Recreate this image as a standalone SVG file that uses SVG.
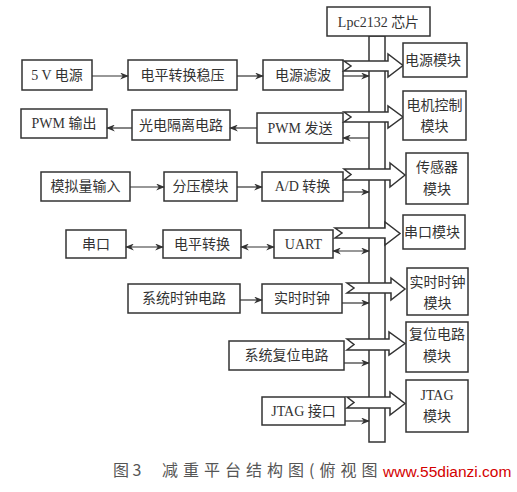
<svg xmlns="http://www.w3.org/2000/svg" width="517" height="492" viewBox="0 0 517 492">
<style>
.box{fill:#fff;stroke:#333;stroke-width:1.5}
.t{font-family:"Liberation Serif","Noto Sans CJK SC",serif;font-size:14px;fill:#333;text-anchor:middle;dominant-baseline:central}
.c{stroke:#333;stroke-width:1.2;fill:none}
.ba{fill:#fff;stroke:#333;stroke-width:1.5;stroke-linejoin:miter}
</style>
<defs>
<marker id="ah" viewBox="0 0 10 8" refX="9" refY="4" markerWidth="9" markerHeight="7" markerUnits="userSpaceOnUse" orient="auto-start-reverse">
<path d="M0,0 L10,4 L0,8 L3,4 z" fill="#333"/>
</marker>
</defs>
<rect width="517" height="492" fill="#fff"/>
<g id="bus">
<rect class="box" x="369" y="36" width="16" height="406"/>
</g>
<g id="lpc"><rect class="box" x="327" y="7" width="103" height="29"/><text class="t" x="378.5" y="22">Lpc2132 芯片</text></g>
<g id="n5v"><rect class="box" x="22" y="60" width="70" height="30"/><text class="t" x="57" y="75">5 V 电源</text></g>
<g id="ndp"><rect class="box" x="128" y="60" width="109" height="30"/><text class="t" x="182.5" y="75">电平转换稳压</text></g>
<g id="nlb"><rect class="box" x="263" y="60" width="80" height="30"/><text class="t" x="303" y="75">电源滤波</text></g>
<g id="npwmout"><rect class="box" x="21" y="109" width="86" height="29"/><text class="t" x="64" y="123.5">PWM 输出</text></g>
<g id="ngd"><rect class="box" x="132" y="110" width="98" height="30"/><text class="t" x="181" y="125">光电隔离电路</text></g>
<g id="npwm"><rect class="box" x="257" y="113" width="86" height="30"/><text class="t" x="300" y="128">PWM 发送</text></g>
<g id="nmn"><rect class="box" x="41" y="172" width="89" height="29"/><text class="t" x="85.5" y="186.5">模拟量输入</text></g>
<g id="nfy"><rect class="box" x="164" y="172" width="73" height="29"/><text class="t" x="200.5" y="186.5">分压模块</text></g>
<g id="nad"><rect class="box" x="262" y="172" width="81" height="29"/><text class="t" x="302.5" y="186.5">A/D 转换</text></g>
<g id="nck"><rect class="box" x="66" y="230" width="60" height="28"/><text class="t" x="96" y="244">串口</text></g>
<g id="ndz"><rect class="box" x="163" y="230" width="78" height="28"/><text class="t" x="202" y="244">电平转换</text></g>
<g id="nuart"><rect class="box" x="274" y="230" width="59" height="28"/><text class="t" x="303.5" y="244">UART</text></g>
<g id="nxtsz"><rect class="box" x="128" y="284" width="112" height="29"/><text class="t" x="184" y="298.5">系统时钟电路</text></g>
<g id="nsssz"><rect class="box" x="262" y="284" width="80" height="29"/><text class="t" x="302" y="298.5">实时时钟</text></g>
<g id="nfw"><rect class="box" x="229" y="341" width="115" height="29"/><text class="t" x="286.5" y="355.5">系统复位电路</text></g>
<g id="njtag"><rect class="box" x="262" y="397" width="83" height="28"/><text class="t" x="303.5" y="411">JTAG 接口</text></g>
<g id="connectors">
<line class="c" x1="92" y1="76" x2="128" y2="76" marker-end="url(#ah)"/>
<line class="c" x1="237" y1="76" x2="263" y2="76" marker-end="url(#ah)"/>
<line class="c" x1="343" y1="76" x2="369" y2="76" marker-end="url(#ah)"/>
<line class="c" x1="257" y1="128" x2="230" y2="128" marker-end="url(#ah)"/>
<line class="c" x1="132" y1="128" x2="107" y2="128" marker-end="url(#ah)"/>
<line class="c" x1="369" y1="138" x2="343" y2="138" marker-end="url(#ah)"/>
<line class="c" x1="130" y1="187" x2="164" y2="187" marker-end="url(#ah)"/>
<line class="c" x1="237" y1="187" x2="262" y2="187" marker-end="url(#ah)"/>
<line class="c" x1="343" y1="192" x2="369" y2="192" marker-end="url(#ah)"/>
<line class="c" x1="126" y1="247" x2="163" y2="247" marker-start="url(#ah)" marker-end="url(#ah)"/>
<line class="c" x1="241" y1="247" x2="274" y2="247" marker-start="url(#ah)" marker-end="url(#ah)"/>
<line class="c" x1="333" y1="251" x2="369" y2="251" marker-start="url(#ah)" marker-end="url(#ah)"/>
<line class="c" x1="240" y1="300" x2="262" y2="300" marker-end="url(#ah)"/>
<line class="c" x1="342" y1="303" x2="369" y2="303" marker-end="url(#ah)"/>
<line class="c" x1="344" y1="363" x2="369" y2="363" marker-end="url(#ah)"/>
<line class="c" x1="345" y1="421" x2="369" y2="421" marker-end="url(#ah)"/>
<path class="ba" d="M344,61 L388,61 L388,54 L403,65.5 L388,77 L388,71 L344,71 L351,66 z"/>
<path class="ba" d="M344,112 L388,112 L388,106 L403,117 L388,128 L388,122 L344,122 L351,117 z"/>
<path class="ba" d="M344,169 L390,169 L390,163 L405,175 L390,187 L390,180 L344,180 L351,174.5 z"/>
<path class="ba" d="M335,228 L385,228 L385,222 L400,233.5 L385,245 L385,238 L335,238 L342,233 z"/>
<path class="ba" d="M347,283 L391,283 L391,278 L405,289 L391,300 L391,293 L347,293 L354,288 z"/>
<path class="ba" d="M347,339 L389,339 L389,332 L405,343.5 L389,355 L389,350 L347,350 L354,344.5 z"/>
<path class="ba" d="M347,397 L390,397 L390,392 L405,403.5 L390,415 L390,408 L347,408 L354,402.5 z"/>
</g>
<g id="m1"><rect class="box" x="403" y="43" width="64" height="34"/><text class="t" x="433" y="60">电源模块</text></g>
<g id="m2"><rect class="box" x="403" y="91" width="63" height="49"/><text class="t" x="434.5" y="105">电机控制</text><text class="t" x="434.5" y="126">模块</text></g>
<g id="m3"><rect class="box" x="406" y="153" width="62" height="51"/><text class="t" x="437" y="167">传感器</text><text class="t" x="437" y="189">模块</text></g>
<g id="m4"><rect class="box" x="403" y="215" width="62" height="34"/><text class="t" x="432" y="232">串口模块</text></g>
<g id="m5"><rect class="box" x="407" y="268" width="61" height="47"/><text class="t" x="437.5" y="282">实时时钟</text><text class="t" x="437.5" y="303">模块</text></g>
<g id="m6"><rect class="box" x="406" y="322" width="62" height="50"/><text class="t" x="437" y="334">复位电路</text><text class="t" x="437" y="356">模块</text></g>
<g id="m7"><rect class="box" x="406" y="380" width="62" height="52"/><text class="t" x="437" y="395">JTAG</text><text class="t" x="437" y="416">模块</text></g>
<g id="caption">
<text x="113" y="476" font-family="'Noto Sans CJK SC',sans-serif" font-size="16" fill="#555">图 3</text>
<text x="162" y="476" font-family="'Noto Sans CJK SC',sans-serif" font-size="16" fill="#555" letter-spacing="5">减重平台结构图(俯视图</text>
<text x="383" y="477" font-family="'Liberation Sans',Arial,sans-serif" font-size="15.5" fill="#d40000">www.55dianzi.com</text>
</g>
</svg>
